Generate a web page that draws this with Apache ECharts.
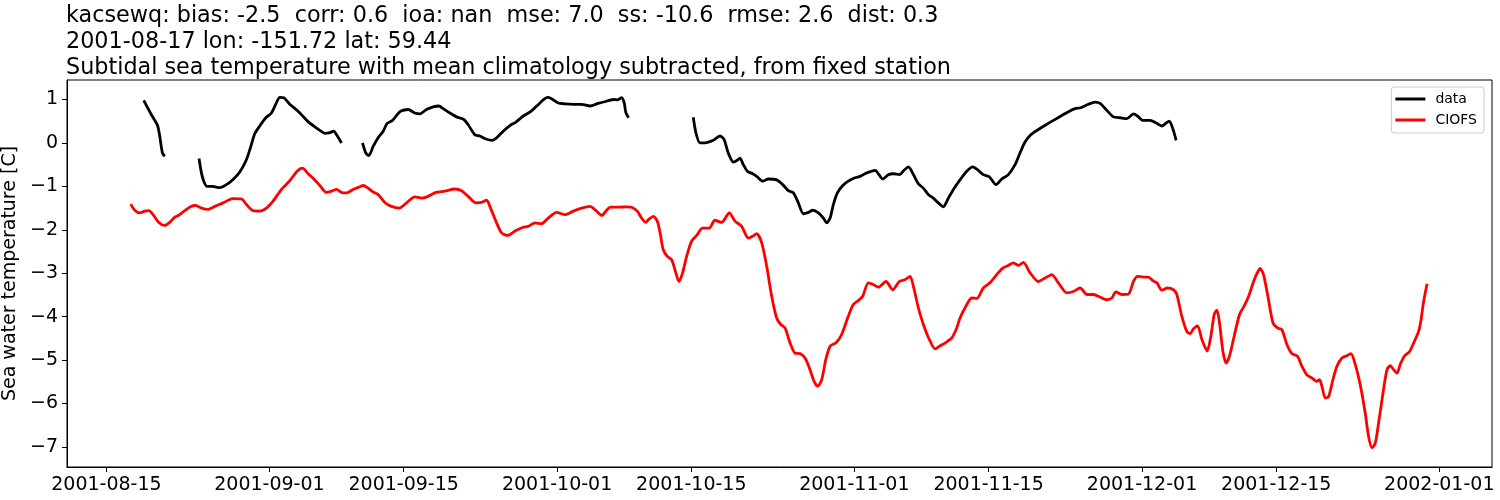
<!DOCTYPE html>
<html>
<head>
<meta charset="utf-8">
<script src="https://cdn.jsdelivr.net/npm/echarts@6/dist/echarts.min.js"></script>
<style>html,body{margin:0;padding:0;background:#fff}#c{width:1500px;height:500px}</style>
</head>
<body>
<div id="c"></div>
<script>
// Base date: day offsets below are days since 2001-08-15 00:00 UTC
const baseDate = '2001-08-15';
const titleLines = [
  'kacsewq: bias: -2.5  corr: 0.6  ioa: nan  mse: 7.0  ss: -10.6  rmse: 2.6  dist: 0.3',
  '2001-08-17 lon: -151.72 lat: 59.44',
  'Subtidal sea temperature with mean climatology subtracted, from fixed station'
];
const yAxisName = 'Sea water temperature [C]';
const seriesNames = ['data', 'CIOFS'];
const xTickLabels = ['2001-08-15','2001-09-01','2001-09-15','2001-10-01','2001-10-15','2001-11-01','2001-11-15','2001-12-01','2001-12-15','2002-01-01'];
const yTickValues = [-7,-6,-5,-4,-3,-2,-1,0,1];
const xRangeDays = [-4.11, 144.5];
const yRange = [-7.461, 1.449];

// observed data (null = gap)
const dataDays = [3.89,4.69,5.32,5.56,5.84,6.08,7.9,
 9.66,9.91,10.15,10.5,11.06,11.82,12.52,13.21,13.91,14.61,15.02,15.47,15.99,16.62,17.21,17.66,18.08,18.5,19.12,19.89,20.34,21.03,21.73,22.25,22.78,23.23,23.71,24.0,24.52,25.6,
 26.71,27.05,27.37,27.82,28.34,28.86,29.28,29.84,30.25,30.67,31.47,32.16,32.69,33.38,34.08,34.67,35.12,35.82,36.51,37.28,37.73,38.42,38.95,39.57,40.23,40.75,41.38,42.08,42.7,43.47,44.24,44.93,45.55,45.97,46.43,47.12,47.82,48.68,49.56,50.43,51.29,52.16,52.93,53.27,53.73,54.0,54.18,54.46,58,
 61.2,61.48,61.9,62.42,63.29,63.99,64.41,64.85,65.38,65.79,66.07,66.42,66.84,67.4,67.88,68.44,69.03,69.9,70.53,71.12,71.64,72.16,72.68,73.21,73.66,74.25,74.77,75.12,75.47,75.81,76.23,76.79,77.37,78.07,78.6,79.29,80.16,80.96,81.55,82.07,82.7,83.18,83.64,84.16,84.68,85.2,85.72,86.24,86.76,87.28,87.81,88.33,89.02,89.72,90.35,90.93,91.45,92.08,92.78,93.37,94.06,94.76,95.28,95.8,96.4,97.19,97.99,98.76,99.63,100.33,101.02,101.62,102.41,103.11,103.63,104.33,105.02,105.72,106.42,107.11,107.53,108.09,108.85,109.48,110.07,110.52,110.84,111.21,111.56];
const dataTemp = [0.98,0.65,0.41,0.16,-0.23,-0.31,null,
 -0.36,-0.69,-0.88,-1.0,-1.0,-1.03,-0.96,-0.84,-0.67,-0.38,-0.11,0.21,0.39,0.58,0.69,0.89,1.05,1.04,0.89,0.75,0.65,0.49,0.37,0.29,0.22,0.23,0.27,0.19,0.0,null,
 0.0,-0.23,-0.29,-0.08,0.12,0.27,0.45,0.52,0.63,0.73,0.77,0.69,0.67,0.77,0.83,0.85,0.79,0.69,0.6,0.54,0.42,0.19,0.16,0.09,0.06,0.13,0.27,0.4,0.48,0.62,0.72,0.86,0.99,1.05,1.02,0.92,0.9,0.89,0.89,0.85,0.91,0.96,1.0,0.99,1.04,0.92,0.69,0.58,null,
 0.59,0.23,0.0,0.0,0.06,0.16,0.08,-0.23,-0.44,-0.4,-0.35,-0.5,-0.65,-0.71,-0.78,-0.88,-0.83,-0.85,-0.96,-1.1,-1.15,-1.38,-1.63,-1.6,-1.55,-1.61,-1.73,-1.84,-1.73,-1.42,-1.15,-0.98,-0.88,-0.8,-0.77,-0.69,-0.63,-0.83,-0.73,-0.71,-0.73,-0.63,-0.55,-0.73,-0.94,-1.04,-1.19,-1.27,-1.38,-1.47,-1.27,-1.07,-0.85,-0.65,-0.55,-0.63,-0.73,-0.78,-0.96,-0.83,-0.73,-0.5,-0.23,0.02,0.19,0.31,0.42,0.52,0.63,0.72,0.79,0.81,0.89,0.94,0.91,0.75,0.6,0.58,0.56,0.67,0.62,0.52,0.52,0.46,0.39,0.46,0.5,0.33,0.06];

// model (CIOFS)
const modelDays = [2.54,2.95,3.47,4.0,4.44,4.86,5.46,6.08,6.6,7.13,7.58,8.17,8.76,9.32,9.91,10.6,11.3,12.17,13.15,14.08,14.61,15.3,15.99,16.69,17.38,18.26,19.12,19.89,20.45,21.03,21.63,22.25,22.95,23.47,24.0,24.52,25.04,25.73,26.43,26.77,27.29,27.82,28.34,29.03,29.73,30.53,31.3,32.16,32.86,33.55,34.36,35.29,36.34,37.04,37.73,38.53,39.12,39.65,40.06,40.69,41.21,41.84,42.6,43.47,43.99,44.69,45.38,46.07,46.95,47.82,48.68,49.56,50.43,51.12,51.65,52.09,52.58,53.37,54.25,54.77,55.36,55.82,56.23,56.61,57.03,57.45,57.75,58.07,58.49,58.95,59.29,59.71,60.09,60.51,61.03,61.55,62.18,62.87,63.46,64.16,64.96,65.55,66.25,66.94,67.4,67.81,68.34,68.86,69.38,69.9,70.32,70.77,71.29,71.81,72.34,72.86,73.38,73.8,74.18,74.6,75.02,75.47,76.09,76.68,77.37,77.89,78.42,78.87,79.46,79.98,80.5,81.3,82.0,82.69,83.28,83.81,84.16,84.68,85.2,85.83,86.42,86.95,87.57,88.16,88.68,89.02,89.54,90.24,90.77,91.45,92.15,92.85,93.48,94.06,94.59,95.11,95.63,96.33,97.19,97.89,98.59,99.28,100.16,100.85,101.55,102.25,102.94,103.63,104.33,104.85,105.27,105.89,106.59,107.11,107.53,108.15,108.67,109.13,109.55,110.07,110.65,111.28,111.63,112.15,112.67,113.02,113.37,113.79,114.25,114.8,115.18,115.53,115.81,116.08,116.44,116.77,117.12,117.61,118.17,118.66,119.12,119.64,120.0,120.32,120.67,121.13,121.65,122.13,122.59,123.11,123.63,124.21,124.67,125.19,125.71,126.23,126.51,126.76,127.11,127.46,127.91,128.33,128.85,129.37,129.79,130.24,130.76,131.28,131.63,131.98,132.33,132.67,133.13,133.55,133.89,134.24,134.59,134.93,135.35,135.91,136.4,136.85,137.1,137.37,137.73];
const modelTemp = [-1.41,-1.55,-1.61,-1.57,-1.56,-1.65,-1.83,-1.9,-1.83,-1.71,-1.66,-1.56,-1.47,-1.44,-1.5,-1.53,-1.46,-1.38,-1.28,-1.29,-1.42,-1.56,-1.57,-1.5,-1.34,-1.07,-0.87,-0.65,-0.58,-0.71,-0.83,-0.98,-1.14,-1.11,-1.07,-1.14,-1.15,-1.07,-1.01,-0.98,-1.04,-1.13,-1.19,-1.37,-1.46,-1.5,-1.38,-1.24,-1.27,-1.23,-1.14,-1.11,-1.06,-1.1,-1.23,-1.38,-1.37,-1.32,-1.5,-1.84,-2.07,-2.13,-2.03,-1.94,-1.92,-1.84,-1.86,-1.73,-1.6,-1.65,-1.57,-1.5,-1.46,-1.57,-1.67,-1.57,-1.48,-1.48,-1.47,-1.48,-1.57,-1.73,-1.83,-1.75,-1.69,-1.8,-2.08,-2.46,-2.61,-2.69,-2.92,-3.19,-2.99,-2.61,-2.26,-2.13,-1.96,-1.96,-1.78,-1.83,-1.61,-1.8,-1.92,-2.19,-2.15,-2.09,-2.3,-2.84,-3.53,-4.03,-4.18,-4.26,-4.6,-4.84,-4.85,-4.95,-5.22,-5.49,-5.6,-5.45,-4.99,-4.68,-4.6,-4.41,-3.99,-3.72,-3.63,-3.53,-3.22,-3.26,-3.32,-3.19,-3.38,-3.19,-3.15,-3.07,-3.3,-3.8,-4.18,-4.53,-4.74,-4.67,-4.59,-4.49,-4.26,-4.03,-3.8,-3.57,-3.58,-3.34,-3.22,-3.03,-2.88,-2.82,-2.76,-2.82,-2.75,-2.99,-3.19,-3.11,-3.03,-3.22,-3.45,-3.42,-3.34,-3.49,-3.49,-3.55,-3.61,-3.57,-3.43,-3.49,-3.48,-3.19,-3.07,-3.09,-3.09,-3.17,-3.22,-3.39,-3.34,-3.38,-3.49,-3.99,-4.34,-4.39,-4.28,-4.21,-4.53,-4.79,-4.45,-3.95,-3.85,-4.14,-4.8,-5.07,-4.91,-4.45,-3.95,-3.75,-3.53,-3.19,-3.0,-2.89,-3.03,-3.53,-4.14,-4.26,-4.3,-4.64,-4.85,-4.91,-5.14,-5.34,-5.41,-5.49,-5.45,-5.6,-5.87,-5.84,-5.45,-5.14,-4.95,-4.9,-4.85,-5.1,-5.57,-6.22,-6.76,-7.02,-6.91,-6.45,-5.76,-5.22,-5.13,-5.22,-5.3,-5.1,-4.91,-4.8,-4.57,-4.34,-4.07,-3.65,-3.24];

const DAY = 86400000;
const base = Date.parse(baseDate + 'T00:00:00Z');
const toT = d => base + d * DAY;
const pairs = (ds, vs) => ds.map((d, i) => [toT(d), vs[i]]);
const xTickValues = xTickLabels.map(s => Date.parse(s + 'T00:00:00Z'));
const pad2 = n => (n < 10 ? '0' : '') + n;
const fmtDate = v => { const t = new Date(v); return t.getUTCFullYear() + '-' + pad2(t.getUTCMonth() + 1) + '-' + pad2(t.getUTCDate()); };
const FONT = 'DejaVu Sans';

const chart = echarts.init(document.getElementById('c'), null, {renderer: 'canvas'});
chart.setOption({
  animation: false,
  backgroundColor: '#fff',
  textStyle: {fontFamily: FONT},
  title: titleLines.map((t, i) => ({
    text: t, left: 66, top: 4 + i * 26,
    textStyle: {fontFamily: FONT, fontSize: 22.3, fontWeight: 'normal', color: '#000', lineHeight: 24},
    padding: 0
  })),
  legend: {
    data: seriesNames.map(n => ({name: n, icon: 'rect'})),
    orient: 'vertical', right: 16, top: 87,
    itemWidth: 30, itemHeight: 3, itemGap: 7,
    padding: [5, 7, 6, 4],
    backgroundColor: '#fff', borderColor: '#cccccc', borderWidth: 1, borderRadius: 3,
    textStyle: {fontFamily: FONT, fontSize: 14, color: '#000', lineHeight: 14, padding: [0, 0, 0, 5]}
  },
  grid: {left: 67, right: 8, top: 80, bottom: 33, containLabel: false, outerBoundsMode: 'none',
         show: true, borderColor: '#000', borderWidth: 1, backgroundColor: 'transparent'},
  xAxis: {
    type: 'value', min: toT(xRangeDays[0]), max: toT(xRangeDays[1]),
    axisLine: {show: true, onZero: false, lineStyle: {color: '#000', width: 1}},
    axisTick: {show: true, customValues: xTickValues, length: 5, lineStyle: {color: '#000'}},
    axisLabel: {customValues: xTickValues, formatter: v => fmtDate(v), fontFamily: FONT, fontSize: 19, color: '#000', margin: 9, hideOverlap: false, showMinLabel: true, showMaxLabel: true},
    splitLine: {show: false}
  },
  yAxis: {
    type: 'value', min: yRange[0], max: yRange[1],
    name: yAxisName, nameLocation: 'middle', nameGap: 42, nameRotate: 90,
    nameTextStyle: {fontFamily: FONT, fontSize: 19, color: '#000'},
    axisLine: {show: true, onZero: false, lineStyle: {color: '#000', width: 1}},
    axisTick: {show: true, customValues: yTickValues, length: 5, lineStyle: {color: '#000'}},
    axisLabel: {customValues: yTickValues, formatter: v => (v < 0 ? '\u2212' + Math.abs(v) : String(v)), fontFamily: FONT, fontSize: 19, color: '#000', margin: 9},
    splitLine: {show: false}
  },
  series: [
    {name: seriesNames[0], type: 'line', data: pairs(dataDays, dataTemp), showSymbol: false, symbol: 'none', smooth: 0.25, connectNulls: false,
     lineStyle: {color: '#000', width: 2.8}, itemStyle: {color: '#000'}, z: 3},
    {name: seriesNames[1], type: 'line', data: pairs(modelDays, modelTemp), showSymbol: false, symbol: 'none', smooth: 0.25,
     lineStyle: {color: '#ff0000', width: 2.8}, itemStyle: {color: '#ff0000'}, z: 2}
  ]
});
</script>
</body>
</html>
